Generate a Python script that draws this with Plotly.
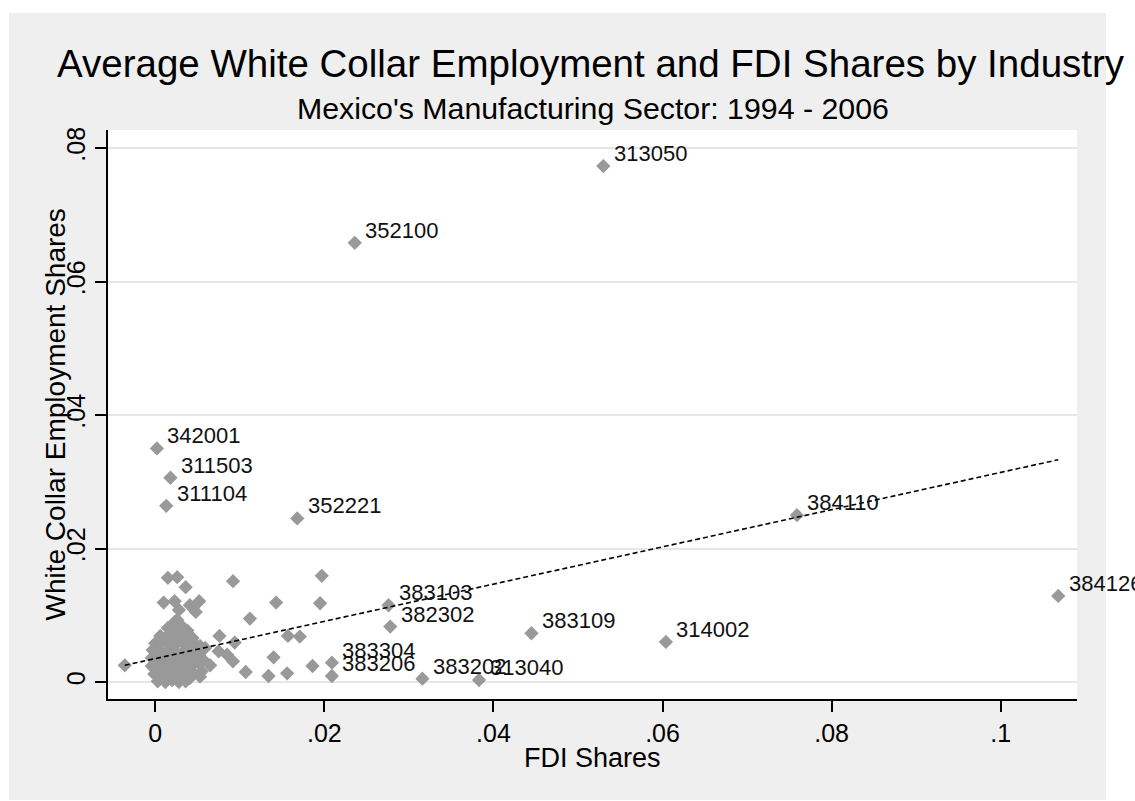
import plotly.graph_objects as go

# ---------------- data ----------------
label_codes = ["313050", "352100", "342001", "311503", "311104", "352221",
               "384110", "384126", "314002", "383109", "383103", "382302",
               "383304", "383206", "383202", "313040"]
label_fdi = [0.0530, 0.0236, 0.0002, 0.0018, 0.0013, 0.0168,
             0.0759, 0.1068, 0.0604, 0.0445, 0.0276, 0.0278,
             0.0209, 0.0209, 0.0316, 0.0383]
label_wc = [0.0773, 0.0658, 0.0350, 0.0306, 0.0264, 0.0245,
            0.0250, 0.0129, 0.0060, 0.0073, 0.0115, 0.0083,
            0.0029, 0.0009, 0.0005, 0.0003]

# unlabeled industries: scattered points
scatter_fdi = [-0.0036, 0.0015, 0.0026, 0.0036, 0.0092, 0.0197, 0.0010, 0.0023,
               0.0041, 0.0052, 0.0048, 0.0028, 0.0143, 0.0195, 0.0112, 0.0026,
               0.0020, 0.0038, 0.0076, 0.0094, 0.0157, 0.0171, 0.0140, 0.0075,
               0.0085, 0.0092, 0.0107, 0.0134, 0.0156, 0.0186, 0.0065, 0.0055,
               0.0045, 0.0053]
scatter_wc = [0.0025, 0.0156, 0.0157, 0.0142, 0.0151, 0.0159, 0.0119, 0.0121,
              0.0115, 0.0121, 0.0105, 0.0108, 0.0119, 0.0118, 0.0095, 0.0093,
              0.0082, 0.0077, 0.0069, 0.0059, 0.0069, 0.0068, 0.0037, 0.0046,
              0.0041, 0.0031, 0.0015, 0.0009, 0.0013, 0.0024, 0.0025, 0.0016,
              0.0013, 0.0008]

# unlabeled industries: dense cluster near the origin
cluster_fdi = [0.0023, 0.0029,
               0.0015, 0.0027, 0.0036,
               0.0006, 0.0015, 0.0025, 0.0034, 0.0044,
               0.0009, 0.0025, 0.0041,
               0.0000, 0.0008, 0.0018, 0.0027, 0.0036, 0.0046, 0.0053,
               -0.0003, 0.0006, 0.0015, 0.0023, 0.0033, 0.0041, 0.0049, 0.0059,
               0.0001, 0.0016, 0.0033, 0.0051,
               -0.0004, 0.0003, 0.0012, 0.0020, 0.0029, 0.0039, 0.0047, 0.0057,
               0.0001, 0.0016, 0.0033, 0.0051,
               -0.0004, 0.0003, 0.0010, 0.0019, 0.0027, 0.0035, 0.0044,
               0.0009, 0.0025, 0.0041,
               -0.0001, 0.0006, 0.0014, 0.0022, 0.0031, 0.0039,
               0.0009, 0.0025, 0.0041,
               0.0003, 0.0012, 0.0020, 0.0028, 0.0036]
cluster_wc = [0.0090, 0.0087,
              0.0081, 0.0078, 0.0076,
              0.0069, 0.0070, 0.0067, 0.0069, 0.0066,
              0.0064, 0.0064, 0.0064,
              0.0058, 0.0060, 0.0057, 0.0060, 0.0055, 0.0058, 0.0054,
              0.0048, 0.0045, 0.0048, 0.0046, 0.0045, 0.0048, 0.0043, 0.0051,
              0.0042, 0.0042, 0.0042, 0.0042,
              0.0036, 0.0033, 0.0037, 0.0034, 0.0036, 0.0033, 0.0037, 0.0033,
              0.0030, 0.0030, 0.0030, 0.0030,
              0.0024, 0.0021, 0.0025, 0.0022, 0.0024, 0.0021, 0.0025,
              0.0018, 0.0018, 0.0018,
              0.0012, 0.0009, 0.0013, 0.0010, 0.0012, 0.0009,
              0.0006, 0.0006, 0.0006,
              0.0001, 0.0000, 0.0003, 0.0000, 0.0001]

# fitted line end points
fit_fdi = [-0.0036, 0.1068]
fit_wc = [0.0025, 0.0333]

x_tickvals = [0, 0.02, 0.04, 0.06, 0.08, 0.1]
x_ticktext = ["0", ".02", ".04", ".06", ".08", ".1"]
y_tickvals = [0, 0.02, 0.04, 0.06, 0.08]
y_ticktext = ["0", ".02", ".04", ".06", ".08"]

title_text = "Average White Collar Employment and FDI Shares by Industry"
subtitle_text = "Mexico's Manufacturing Sector: 1994 - 2006"
x_title = "FDI Shares"
y_title = "White Collar Employment Shares"

# ---------------- layout geometry ----------------
W, H = 1135, 801
L, R, T, B = 108, 1077, 130, 699
PW, PH = R - L, B - T


def px_x(px):
    return (px - L) / PW


def px_y(py):
    return (B - py) / PH


FONT = "Liberation Sans, Arial, Helvetica, sans-serif"
MARKER = "#999999"
BG = "#efefef"

all_fdi = scatter_fdi + cluster_fdi + label_fdi
all_wc = scatter_wc + cluster_wc + label_wc

fig = go.Figure()
fig.add_trace(go.Scatter(
    x=all_fdi, y=all_wc, mode="markers",
    marker=dict(symbol="diamond", size=11, color=MARKER, line=dict(width=0)),
    hoverinfo="x+y", showlegend=False, cliponaxis=False,
))
fig.add_trace(go.Scatter(
    x=fit_fdi, y=fit_wc, mode="lines",
    line=dict(color="black", width=1.6, dash="5px,3px"),
    showlegend=False, hoverinfo="skip",
))

annotations = []
for code, xv, yv in zip(label_codes, label_fdi, label_wc):
    annotations.append(dict(
        x=xv, y=yv, xref="x", yref="y", text=code, showarrow=False,
        xanchor="left", yanchor="middle", xshift=8.5, yshift=12.5,
        font=dict(family=FONT, size=22, color="#111111"),
    ))

annotations += [
    dict(x=px_x(591), y=px_y(64), xref="paper", yref="paper", text=title_text,
         showarrow=False, xanchor="center", yanchor="middle",
         font=dict(family=FONT, size=38.5, color="black")),
    dict(x=px_x(593), y=px_y(109), xref="paper", yref="paper", text=subtitle_text,
         showarrow=False, xanchor="center", yanchor="middle",
         font=dict(family=FONT, size=30.3, color="black")),
    dict(x=0.5, y=px_y(758), xref="paper", yref="paper", text=x_title,
         showarrow=False, xanchor="center", yanchor="middle",
         font=dict(family=FONT, size=27, color="black")),
    dict(x=px_x(55), y=0.5, xref="paper", yref="paper", text=y_title,
         showarrow=False, xanchor="center", yanchor="middle", textangle=-90,
         font=dict(family=FONT, size=28, color="black")),
]

# white border strips around the grey graph region
shapes = []
for x0, x1, y0, y1 in [(-10, 9, -10, 820), (1106, 1150, -10, 820),
                       (-10, 1150, -10, 13), (-10, 1150, 800, 820)]:
    shapes.append(dict(type="rect", xref="paper", yref="paper",
                       x0=px_x(x0), x1=px_x(x1), y0=px_y(y0), y1=px_y(y1),
                       fillcolor="white", line=dict(width=0), layer="below"))

fig.update_layout(
    width=W, height=H,
    margin=dict(l=L, r=W - R, t=T, b=H - B, pad=0),
    paper_bgcolor=BG, plot_bgcolor="white",
    font=dict(family=FONT, color="black"),
    annotations=annotations, shapes=shapes,
    xaxis=dict(range=[-0.005583, 0.10902], tickvals=x_tickvals, ticktext=x_ticktext,
               ticks="outside", ticklen=11, tickwidth=1.5, tickcolor="black",
               showline=True, linecolor="black", linewidth=2,
               showgrid=False, zeroline=False,
               tickfont=dict(family=FONT, size=25, color="black")),
    yaxis=dict(range=[-0.002547, 0.08270], tickvals=y_tickvals, ticktext=y_ticktext,
               tickangle=-90,
               ticks="outside", ticklen=11, tickwidth=1.5, tickcolor="black",
               showline=True, linecolor="black", linewidth=2,
               showgrid=True, gridcolor="#e6e6e6", gridwidth=1.5, zeroline=False,
               tickfont=dict(family=FONT, size=25, color="black")),
)

fig.write_html(
    "out.html",
    config={"displayModeBar": False},
    post_script="document.body.style.margin='0px';document.body.style.overflow='hidden';",
)
